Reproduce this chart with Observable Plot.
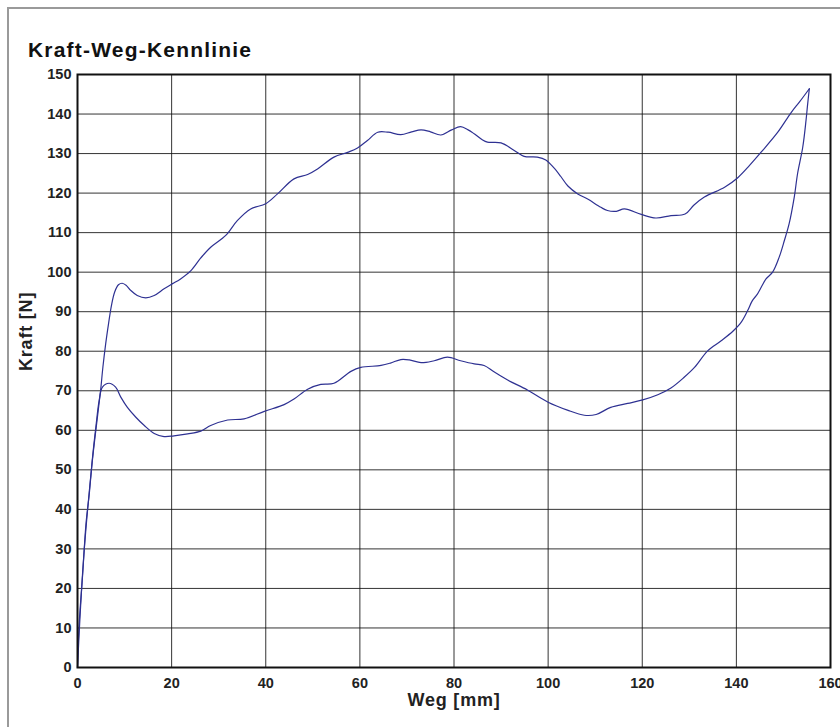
<!DOCTYPE html>
<html>
<head>
<meta charset="utf-8">
<script src="https://cdn.jsdelivr.net/npm/d3@7"></script>
<script src="https://cdn.jsdelivr.net/npm/@observablehq/plot@0.6"></script>
<style>
  html, body { margin: 0; padding: 0; background: #fff; }
  #wrap { position: relative; width: 840px; height: 727px; overflow: hidden; background: #fff; }
  #border { position: absolute; left: 7px; top: 7px; width: 860px; height: 760px;
            border-left: 2px solid #9a9a9a; border-top: 2px solid #9a9a9a; }
  #title { position: absolute; left: 28px; top: 39px; font-family: "Liberation Sans", Arial, Helvetica, sans-serif;
           font-weight: bold; font-size: 21px; line-height: 21px; letter-spacing: 1.2px; color: #111; white-space: nowrap; }
  #chart { position: absolute; left: 0; top: 0; }
</style>
</head>
<body>
<div id="wrap">
  <div id="border"></div>
  <div id="chart"></div>
  <div id="title">Kraft-Weg-Kennlinie</div>
</div>
<script>
// Tick values
const xTicks = [0, 20, 40, 60, 80, 100, 120, 140, 160];
const yTicks = [0, 10, 20, 30, 40, 50, 60, 70, 80, 90, 100, 110, 120, 130, 140, 150];
const xLabel = "Weg [mm]";
const yLabel = "Kraft [N]";

// Loading branch (Belastung): Weg [mm], Kraft [N]
const loadWeg = [0, 0.5, 1.2, 2.0, 2.7, 3.4, 4.2, 4.9, 5.4, 6.0, 6.6, 7.2, 7.9, 8.7, 9.5, 10.4, 11.3, 12.7, 14.5, 16.3, 18.4, 20.2, 21.9, 24.1, 26.2, 28.3, 31.5, 34.0, 36.8, 40.0, 42.5, 46.0, 48.9, 51.0, 54.5, 57.4, 59.5, 61.6, 63.8, 66.0, 68.7, 71.0, 73.0, 75.0, 77.2, 79.5, 81.4, 83.0, 84.3, 86.0, 87.1, 90.0, 92.8, 94.9, 97.7, 99.5, 101.3, 102.7, 104.2, 106.3, 108.4, 111.2, 112.6, 114.5, 116.2, 119.8, 122.9, 126.1, 129.1, 131.0, 133.2, 137.5, 140.3, 142.8, 145.3, 148.8, 151.6, 153.5, 155.5];
const loadKraft = [0, 12, 26, 38, 47, 55, 63, 70, 76, 82, 87, 91.5, 95, 96.8, 97.2, 96.6, 95.4, 94.1, 93.5, 94.1, 95.8, 97.1, 98.3, 100.4, 103.6, 106.3, 109.3, 113.1, 116.0, 117.3, 119.8, 123.6, 124.7, 126.1, 129.1, 130.3, 131.4, 133.3, 135.4, 135.4, 134.8, 135.5, 136.0, 135.5, 134.7, 136.0, 136.8, 136.0, 135.0, 133.5, 132.9, 132.7, 130.8, 129.3, 129.1, 128.4, 126.3, 124.2, 121.8, 119.8, 118.5, 116.4, 115.6, 115.4, 116.0, 114.6, 113.7, 114.3, 114.7, 117.0, 119.0, 121.5, 123.9, 127.0, 130.4, 135.4, 140.3, 143.2, 146.4];

// Unloading branch (Entlastung): Weg [mm], Kraft [N]
const unloadWeg = [155.5, 155.1, 154.8, 154.1, 153.0, 152.3, 151.2, 150.2, 149.1, 147.7, 146.3, 144.5, 143.4, 142.4, 141.0, 139.2, 136.7, 133.9, 131.1, 128.9, 126.1, 123.3, 120.1, 116.9, 113.3, 110.2, 107.7, 104.1, 100.0, 95.6, 91.4, 88.5, 86.4, 84.3, 81.4, 78.6, 75.8, 73.0, 70.5, 68.7, 66.5, 64.5, 60.2, 58.1, 54.5, 51.7, 48.9, 46.0, 43.9, 39.7, 35.4, 31.9, 28.3, 26.2, 23.4, 20.5, 18.4, 16.3, 14.2, 12.4, 10.6, 9.2, 8.1, 6.7, 5.3, 4.6, 3.9, 3.2, 2.5, 1.8, 1.1, 0.35, 0];
const unloadKraft = [146.4, 142, 138.4, 131.6, 124.9, 119.0, 112.2, 108.0, 103.8, 100.0, 98.3, 94.5, 92.8, 90.3, 87.3, 85.0, 82.6, 80.1, 75.9, 73.4, 70.7, 69.0, 67.7, 66.8, 65.8, 64.0, 63.8, 65.1, 67.1, 70.2, 72.7, 74.8, 76.4, 76.8, 77.6, 78.5, 77.6, 77.1, 77.8, 77.9, 77.0, 76.4, 75.9, 74.9, 71.9, 71.6, 70.4, 67.9, 66.5, 64.8, 62.9, 62.6, 61.2, 59.8, 59.1, 58.6, 58.4, 59.2, 61.2, 63.3, 65.8, 68.4, 70.9, 71.9, 70.9, 67.5, 60.8, 53.2, 43.9, 36.3, 23.6, 11, 0];

const loadData = loadWeg.map((x, i) => ({x, y: loadKraft[i]}));
const unloadData = unloadWeg.map((x, i) => ({x, y: unloadKraft[i]}));

const lineColor = "#2e3192";
const font = '"Liberation Sans", Arial, Helvetica, sans-serif';

const plot = Plot.plot({
  width: 840,
  height: 727,
  marginLeft: 77,
  marginRight: 10,
  marginTop: 74,
  marginBottom: 60,
  style: {background: "transparent", fontFamily: font, fontSize: "14.5px", fontWeight: "bold", color: "#222", overflow: "visible"},
  x: {domain: [0, 160]},
  y: {domain: [0, 150]},
  marks: [
    Plot.gridX(xTicks, {stroke: "#111", strokeOpacity: 0.85, strokeWidth: 1}),
    Plot.gridY(yTicks, {stroke: "#111", strokeOpacity: 0.85, strokeWidth: 1}),
    Plot.axisX(xTicks, {tickSize: 0, tickPadding: 10, label: null, fontWeight: "bold"}),
    Plot.axisY(yTicks, {tickSize: 0, tickPadding: 6, label: null, fontWeight: "bold"}),
    Plot.line(loadData, {x: "x", y: "y", stroke: lineColor, strokeWidth: 1.2, curve: "catmull-rom"}),
    Plot.line(unloadData, {x: "x", y: "y", stroke: lineColor, strokeWidth: 1.2, curve: "catmull-rom"}),
    Plot.frame({stroke: "#111", strokeWidth: 2}),
    Plot.text([xLabel], {text: d => d, frameAnchor: "bottom", dy: 38, fontSize: 18, fontWeight: "bold", fill: "#222"}),
    Plot.text([yLabel], {text: d => d, frameAnchor: "left", dx: -51, rotate: -90, fontSize: 18, fontWeight: "bold", fill: "#222"})
  ]
});

// letter spacing on axis titles to mimic the original font width
d3.select(plot).selectAll("text").each(function() {
  const t = this.textContent;
  if (t === xLabel || t === yLabel) d3.select(this).attr("letter-spacing", "0.8px");
});

document.getElementById("chart").appendChild(plot);
</script>
</body>
</html>
